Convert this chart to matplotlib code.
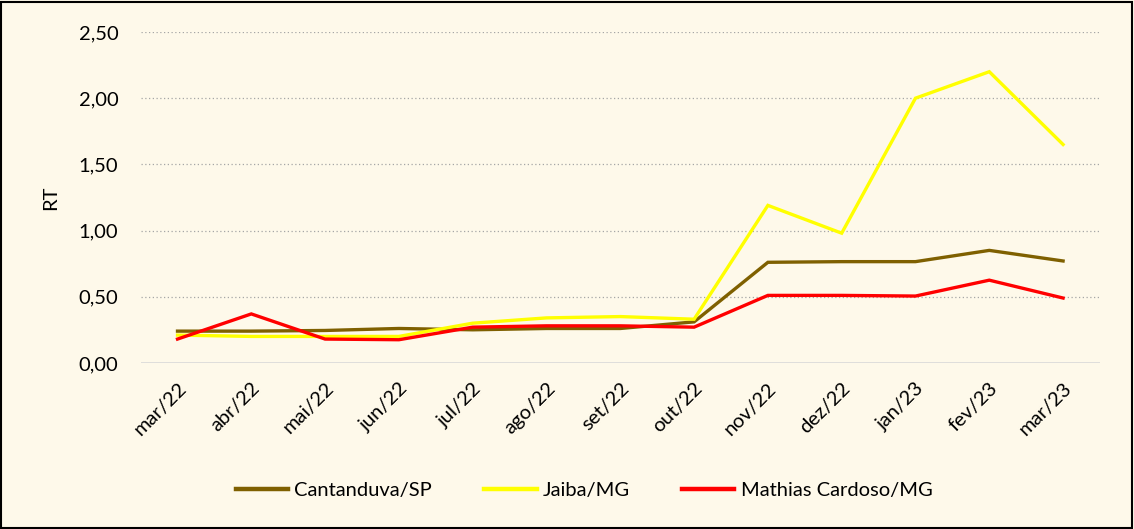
import matplotlib.pyplot as plt
from matplotlib.patches import Rectangle

months = ["mar/22", "abr/22", "mai/22", "jun/22", "jul/22", "ago/22", "set/22",
          "out/22", "nov/22", "dez/22", "jan/23", "fev/23", "mar/23"]
cantanduva = [0.24, 0.24, 0.245, 0.26, 0.25, 0.26, 0.26, 0.31, 0.76, 0.765, 0.765, 0.85, 0.77]
jaiba = [0.21, 0.20, 0.20, 0.20, 0.30, 0.34, 0.35, 0.33, 1.19, 0.98, 2.00, 2.20, 1.65]
mathias = [0.18, 0.37, 0.18, 0.175, 0.27, 0.28, 0.28, 0.27, 0.51, 0.51, 0.505, 0.625, 0.49]

series = [("Cantanduva/SP", cantanduva, "#7f6000"),
          ("Jaiba/MG", jaiba, "#ffff00"),
          ("Mathias Cardoso/MG", mathias, "#ff0000")]

plt.rcParams["font.family"] = ["Lato", "DejaVu Sans"]
bg = "#fef9ea"

fig = plt.figure(figsize=(11.34, 5.29), dpi=100, facecolor=bg)
fig.patches.append(Rectangle((0.001, 0.002), 0.997, 0.995, transform=fig.transFigure,
                             fill=False, edgecolor="black", linewidth=1.5))
ax = fig.add_axes([0.124, 0.314, 0.846, 0.6255], facecolor=bg)

x = range(len(months))
for name, vals, color in series:
    ax.plot(x, vals, color=color, linewidth=2.4, label=name, solid_joinstyle="miter")

ax.set_xlim(-0.5, 12.5)
ax.set_ylim(0, 2.5)
ax.set_yticks([0, 0.5, 1.0, 1.5, 2.0, 2.5])
ax.set_yticklabels([f"{v:.2f}".replace(".", ",") for v in [0, 0.5, 1.0, 1.5, 2.0, 2.5]],
                   fontsize=14.5)
ax.set_xticks(list(x))
ax.set_xticklabels(months, rotation=45, ha="right", rotation_mode="anchor", fontsize=14.5)
ax.tick_params(axis="y", length=0, pad=16)
ax.tick_params(axis="x", length=0, pad=12)
for v in [0.5, 1.0, 1.5, 2.0, 2.5]:
    ax.axhline(v, color="#a6a6a6", linewidth=0.9, linestyle=(0, (1, 2)), zorder=0)
ax.axhline(0, color="#d9d9d9", linewidth=1.2, zorder=0)
for s in ax.spines.values():
    s.set_visible(False)
ax.set_ylabel("RT", fontsize=14.5, labelpad=14)

fig.legend(loc="center", bbox_to_anchor=(0.515, 0.073), ncol=3, frameon=False,
           fontsize=14.5, handlelength=2.6, columnspacing=2.6, handletextpad=0.3)
for line in fig.legends[0].get_lines():
    line.set_linewidth(3.2)

fig.savefig("out.png", dpi=100, facecolor=bg)
